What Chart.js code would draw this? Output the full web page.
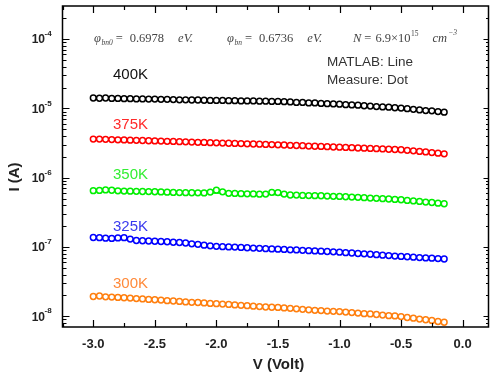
<!DOCTYPE html>
<html>
<head>
<meta charset="utf-8">
<script src="https://cdn.jsdelivr.net/npm/chart.js@4.4.0/dist/chart.umd.min.js"></script>
<style>
  html, body { margin: 0; padding: 0; background: #fff; }
  #wrap { width: 494px; height: 378px; }
</style>
</head>
<body>
<div id="wrap"><canvas id="chart" width="494" height="378"></canvas></div>
<script>
// bias voltage of each measured point (V)
const voltage = [
  -3.00, -2.95, -2.90, -2.85, -2.80, -2.75, -2.70, -2.65, -2.60, -2.55,
  -2.50, -2.45, -2.40, -2.35, -2.30, -2.25, -2.20, -2.15, -2.10, -2.05,
  -2.00, -1.95, -1.90, -1.85, -1.80, -1.75, -1.70, -1.65, -1.60, -1.55,
  -1.50, -1.45, -1.40, -1.35, -1.30, -1.25, -1.20, -1.15, -1.10, -1.05,
  -1.00, -0.95, -0.90, -0.85, -0.80, -0.75, -0.70, -0.65, -0.60, -0.55,
  -0.50, -0.45, -0.40, -0.35, -0.30, -0.25, -0.20, -0.15
];

// measured reverse current (A)
const meas400 = [
  1.41e-5, 1.40e-5, 1.41e-5, 1.39e-5, 1.39e-5, 1.38e-5, 1.38e-5, 1.37e-5, 1.37e-5, 1.36e-5,
  1.36e-5, 1.35e-5, 1.35e-5, 1.34e-5, 1.33e-5, 1.33e-5, 1.32e-5, 1.32e-5, 1.31e-5, 1.30e-5,
  1.30e-5, 1.30e-5, 1.29e-5, 1.29e-5, 1.28e-5, 1.28e-5, 1.28e-5, 1.27e-5, 1.27e-5, 1.26e-5,
  1.26e-5, 1.25e-5, 1.24e-5, 1.22e-5, 1.22e-5, 1.20e-5, 1.20e-5, 1.18e-5, 1.17e-5, 1.16e-5,
  1.15e-5, 1.13e-5, 1.12e-5, 1.11e-5, 1.09e-5, 1.08e-5, 1.06e-5, 1.05e-5, 1.04e-5, 1.02e-5,
  1.01e-5, 9.9e-6, 9.7e-6, 9.5e-6, 9.3e-6, 9.2e-6, 9.0e-6, 8.8e-6
];
const meas375 = [
  3.61e-6, 3.60e-6, 3.57e-6, 3.55e-6, 3.52e-6, 3.50e-6, 3.48e-6, 3.46e-6, 3.44e-6, 3.41e-6,
  3.39e-6, 3.37e-6, 3.35e-6, 3.33e-6, 3.31e-6, 3.29e-6, 3.26e-6, 3.24e-6, 3.22e-6, 3.20e-6,
  3.18e-6, 3.16e-6, 3.14e-6, 3.12e-6, 3.10e-6, 3.08e-6, 3.06e-6, 3.04e-6, 3.02e-6, 3.00e-6,
  2.98e-6, 2.96e-6, 2.93e-6, 2.91e-6, 2.89e-6, 2.86e-6, 2.84e-6, 2.82e-6, 2.80e-6, 2.77e-6,
  2.75e-6, 2.73e-6, 2.71e-6, 2.68e-6, 2.66e-6, 2.64e-6, 2.62e-6, 2.60e-6, 2.57e-6, 2.55e-6,
  2.53e-6, 2.48e-6, 2.44e-6, 2.39e-6, 2.35e-6, 2.30e-6, 2.26e-6, 2.21e-6
];
const meas350 = [
  6.50e-7, 6.55e-7, 6.66e-7, 6.58e-7, 6.45e-7, 6.40e-7, 6.38e-7, 6.35e-7, 6.32e-7, 6.29e-7,
  6.26e-7, 6.23e-7, 6.18e-7, 6.12e-7, 6.10e-7, 6.08e-7, 6.06e-7, 6.04e-7, 6.02e-7, 6.20e-7,
  6.60e-7, 6.25e-7, 5.95e-7, 5.92e-7, 5.88e-7, 5.85e-7, 5.82e-7, 5.78e-7, 5.80e-7, 6.15e-7,
  6.10e-7, 5.80e-7, 5.62e-7, 5.60e-7, 5.55e-7, 5.52e-7, 5.49e-7, 5.48e-7, 5.42e-7, 5.38e-7,
  5.36e-7, 5.30e-7, 5.25e-7, 5.20e-7, 5.14e-7, 5.08e-7, 5.03e-7, 4.97e-7, 4.92e-7, 4.86e-7,
  4.80e-7, 4.70e-7, 4.62e-7, 4.54e-7, 4.45e-7, 4.38e-7, 4.29e-7, 4.20e-7
];
const meas325 = [
  1.37e-7, 1.36e-7, 1.34e-7, 1.33e-7, 1.35e-7, 1.36e-7, 1.30e-7, 1.24e-7, 1.23e-7, 1.22e-7,
  1.21e-7, 1.20e-7, 1.19e-7, 1.17e-7, 1.16e-7, 1.14e-7, 1.11e-7, 1.09e-7, 1.06e-7, 1.04e-7,
  1.02e-7, 1.01e-7, 1.00e-7, 9.95e-8, 9.85e-8, 9.75e-8, 9.65e-8, 9.55e-8, 9.45e-8, 9.38e-8,
  9.30e-8, 9.20e-8, 9.10e-8, 9.05e-8, 8.95e-8, 8.85e-8, 8.78e-8, 8.70e-8, 8.60e-8, 8.50e-8,
  8.40e-8, 8.28e-8, 8.18e-8, 8.05e-8, 7.95e-8, 7.85e-8, 7.75e-8, 7.62e-8, 7.52e-8, 7.40e-8,
  7.30e-8, 7.22e-8, 7.12e-8, 7.03e-8, 6.95e-8, 6.88e-8, 6.80e-8, 6.70e-8
];
const meas300 = [
  1.93e-8, 1.96e-8, 1.91e-8, 1.89e-8, 1.87e-8, 1.85e-8, 1.83e-8, 1.80e-8, 1.78e-8, 1.75e-8,
  1.73e-8, 1.71e-8, 1.68e-8, 1.66e-8, 1.64e-8, 1.61e-8, 1.59e-8, 1.58e-8, 1.56e-8, 1.53e-8,
  1.52e-8, 1.50e-8, 1.48e-8, 1.46e-8, 1.44e-8, 1.42e-8, 1.40e-8, 1.38e-8, 1.36e-8, 1.35e-8,
  1.34e-8, 1.32e-8, 1.30e-8, 1.28e-8, 1.26e-8, 1.24e-8, 1.22e-8, 1.21e-8, 1.19e-8, 1.18e-8,
  1.17e-8, 1.15e-8, 1.13e-8, 1.11e-8, 1.09e-8, 1.08e-8, 1.06e-8, 1.04e-8, 1.02e-8, 1.01e-8,
  9.9e-9, 9.6e-9, 9.4e-9, 9.1e-9, 8.9e-9, 8.7e-9, 8.4e-9, 8.2e-9
];

// MATLAB model curves
const fitVoltage = [-3.0, -2.5, -2.0, -1.5, -1.0, -0.5, -0.15];
const fit400 = [1.41e-5, 1.36e-5, 1.30e-5, 1.26e-5, 1.15e-5, 1.01e-5, 8.8e-6];
const fit375 = [3.61e-6, 3.39e-6, 3.18e-6, 2.98e-6, 2.75e-6, 2.53e-6, 2.21e-6];
const fit350 = [6.50e-7, 6.26e-7, 6.00e-7, 5.70e-7, 5.36e-7, 4.80e-7, 4.20e-7];
const fit325 = [1.36e-7, 1.20e-7, 1.02e-7, 9.30e-8, 8.40e-8, 7.30e-8, 6.70e-8];
const fit300 = [1.92e-8, 1.73e-8, 1.51e-8, 1.34e-8, 1.17e-8, 9.9e-9, 8.2e-9];

const temps = ['400K', '375K', '350K', '325K', '300K'];
const xTicks = [-3.0, -2.5, -2.0, -1.5, -1.0, -0.5, 0.0];
const yDecades = [-8, -7, -6, -5, -4];

const colors = ['#000000', '#ff0000', '#00ee00', '#0000ff', '#ff7f0f'];
const labelColors = ['#111111', '#ff2a2a', '#33ee33', '#3a3aee', '#ff8a3a'];
const labelY = [75, 125, 175, 227, 284];

const measured = [meas400, meas375, meas350, meas325, meas300];
const fits = [fit400, fit375, fit350, fit325, fit300];

const datasets = [];
measured.forEach((arr, i) => {
  datasets.push({
    label: temps[i] + ' measure',
    data: arr.map((v, k) => ({ x: voltage[k], y: v })),
    showLine: false,
    pointStyle: 'circle',
    pointRadius: 2.9,
    pointBorderWidth: 1.5,
    pointBorderColor: colors[i],
    pointBackgroundColor: '#ffffff',
    order: 0
  });
  datasets.push({
    label: temps[i] + ' MATLAB',
    data: fits[i].map((v, k) => ({ x: fitVoltage[k], y: v })),
    showLine: true,
    borderColor: colors[i],
    borderWidth: 1.6,
    pointRadius: 0,
    tension: 0.3,
    order: 1
  });
});

const SANS = '"Liberation Sans", Arial, sans-serif';
const SERIF = '"Liberation Serif", "Times New Roman", serif';

// frame, inward ticks, log tick labels and annotations
const decor = {
  id: 'decor',
  afterDraw(chart) {
    const c = chart.ctx;
    const a = chart.chartArea;
    const xs = chart.scales.x, ys = chart.scales.y;
    c.save();
    c.strokeStyle = '#000';
    c.lineWidth = 1.5;
    c.strokeRect(a.left, a.top, a.right - a.left, a.bottom - a.top);

    c.lineWidth = 1.2;
    c.beginPath();
    // x ticks, top and bottom
    for (let v = -3.25; v <= 0.2; v += 0.25) {
      const px = Math.round(xs.getPixelForValue(v)) + 0.5;
      const major = xTicks.some(t => Math.abs(t - v) < 1e-6);
      const len = major ? 7 : 4;
      c.moveTo(px, a.bottom); c.lineTo(px, a.bottom - len);
      c.moveTo(px, a.top); c.lineTo(px, a.top + len);
    }
    // y ticks, left and right
    for (let d = -9; d <= -4; d++) {
      for (let k = 1; k <= 9; k++) {
        const v = k * Math.pow(10, d);
        const py = ys.getPixelForValue(v);
        if (py < a.top + 1 || py > a.bottom - 1) continue;
        const y = Math.round(py) + 0.5;
        const len = k === 1 ? 7 : 4;
        c.moveTo(a.left, y); c.lineTo(a.left + len, y);
        c.moveTo(a.right, y); c.lineTo(a.right - (k === 1 ? 5 : 2.5), y);
      }
    }
    c.stroke();

    // y tick labels 10^n
    c.fillStyle = '#222';
    c.textBaseline = 'middle';
    yDecades.forEach(d => {
      const py = ys.getPixelForValue(Math.pow(10, d));
      c.font = 'bold 8px ' + SANS;
      c.textAlign = 'left';
      c.fillText(String(d), 44.5, py - 5);
      c.font = 'bold 12px ' + SANS;
      c.textAlign = 'right';
      c.fillText('10', 45, py + 1);
    });

    // axis titles
    c.font = 'bold 15px ' + SANS;
    c.textAlign = 'center';
    c.fillText('V (Volt)', (a.left + a.right) / 2 + 3, 365);
    c.save();
    c.translate(15, 177);
    c.rotate(-Math.PI / 2);
    c.fillText('I (A)', 0, 0);
    c.restore();

    // temperature labels
    c.font = '15px ' + SANS;
    c.textAlign = 'left';
    temps.forEach((t, i) => {
      c.fillStyle = labelColors[i];
      c.fillText(t, 113, labelY[i]);
    });

    c.fillStyle = '#333';
    c.font = '13.5px ' + SANS;
    c.fillText('MATLAB: Line', 327, 62);
    c.fillText('Measure: Dot', 327, 80);

    // parameter line: pieces written one after another from a start x
    c.fillStyle = '#444';
    const row = 39;
    const it = 'italic 12.5px ' + SERIF;
    const rm = '12.5px ' + SERIF;
    const small = '7.5px ' + SERIF;
    const smallIt = 'italic 7.5px ' + SERIF;
    const run = (x, parts) => {
      parts.forEach(([txt, font, dy, gap]) => {
        x += gap || 0;
        c.font = font;
        c.fillText(txt, x, row + dy);
        x += c.measureText(txt).width;
      });
    };
    run(94, [['\u03c6', it, 0], ['bn0', smallIt, 4, 0.5], ['=', rm, 0, 3], ['0.6978', rm, 0, 7], ['eV.', it, 0, 14]]);
    run(227, [['\u03c6', it, 0], ['bn', smallIt, 4, 0.5], ['=', rm, 0, 3], ['0.6736', rm, 0, 7], ['eV.', it, 0, 14]]);
    run(353, [['N', it, 0], ['=', rm, 0, 3], ['6.9\u00d710', rm, 0, 4], ['15', small, -5, 0.5], ['cm', it, 0, 14], ['\u22123', smallIt, -6, 1]]);
    c.restore();
  }
};

new Chart(document.getElementById('chart'), {
  type: 'scatter',
  data: { datasets },
  options: {
    responsive: false,
    animation: false,
    devicePixelRatio: 1,
    layout: { padding: { top: 6, right: 3, left: 0, bottom: 0 } },
    scales: {
      x: {
        type: 'linear',
        min: -3.25,
        max: 0.21,
        grid: { display: false },
        border: { display: false },
        ticks: {
          autoSkip: false,
          maxRotation: 0,
          padding: 2,
          color: '#222',
          font: { family: SANS, weight: 'bold', size: 13 },
          callback: v => v.toFixed(1)
        },
        afterBuildTicks: s => { s.ticks = xTicks.map(v => ({ value: v })); },
        afterFit: s => { s.height = 51; }
      },
      y: {
        type: 'logarithmic',
        min: 7.1e-9,
        max: 3.0e-4,
        grid: { display: false },
        border: { display: false },
        ticks: { display: false },
        afterFit: s => { s.width = 62.5; }
      }
    },
    plugins: {
      legend: { display: false },
      tooltip: { enabled: false }
    }
  },
  plugins: [decor]
});
</script>
</body>
</html>
